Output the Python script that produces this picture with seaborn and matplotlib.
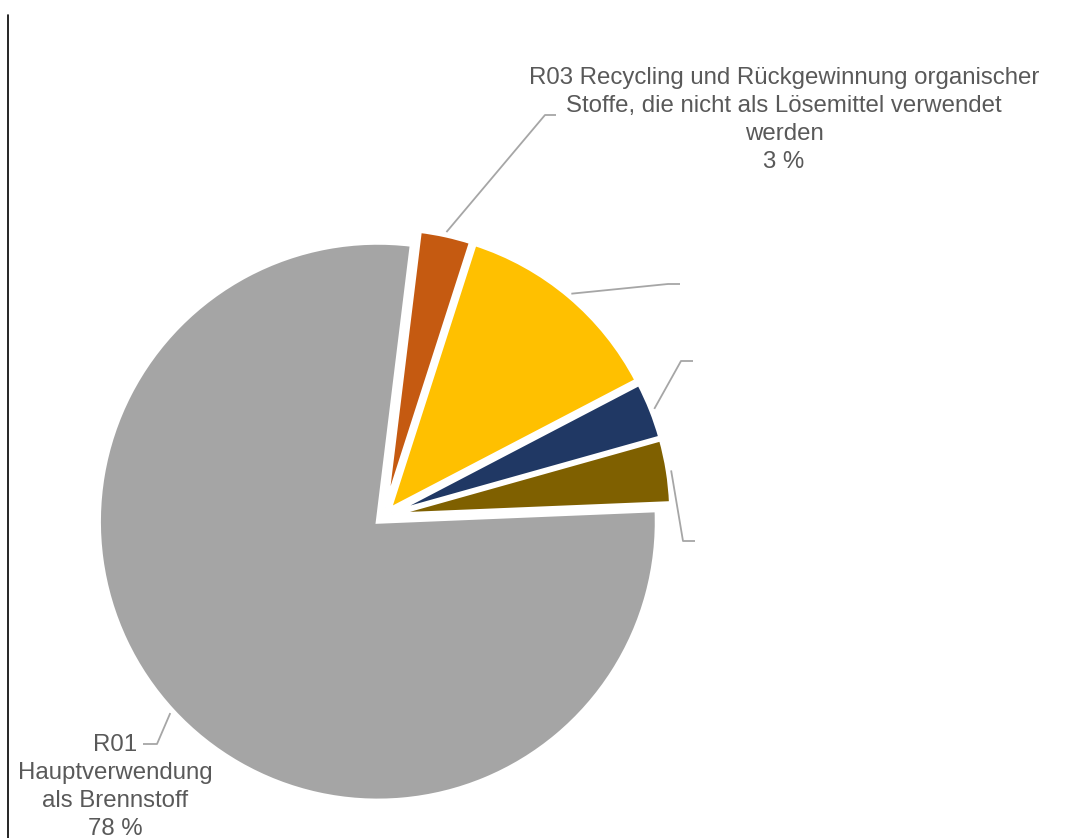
import numpy as np
import matplotlib
matplotlib.use("Agg")
import matplotlib.pyplot as plt
from matplotlib.lines import Line2D
import seaborn as sns

# Share of recovery operations (R-codes), clockwise from the top
codes = ["R03", "R02", "R04", "R05", "R01"]
labels = [
    "R03 Recycling und Rückgewinnung organischer\nStoffe, die nicht als Lösemittel verwendet\nwerden\n3 %",
    "",
    "",
    "",
    "R01\nHauptverwendung\nals Brennstoff\n78 %",
]
shares = [3.0, 12.4, 3.3, 3.7, 77.6]
colors = ["#C55A11", "#FFC000", "#203864", "#7F6000", "#A5A5A5"]

sns.set_theme(style="white")
plt.rcParams["font.family"] = ["Liberation Sans", "DejaVu Sans"]

W, H = 1082, 838
fig = plt.figure(figsize=(W / 100, H / 100), dpi=100)
ax = fig.add_axes([0, 0, 1, 1])

# pixel geometry of the pie
cx, cy, R = 384.0, 516.0, 279.0

def px(x, y):
    return (x - cx) / R, (cy - y) / R

explode = 0.03
wedges, _ = ax.pie(
    shares,
    colors=colors,
    startangle=83.0,
    counterclock=False,
    explode=[explode] * len(shares),
    wedgeprops=dict(edgecolor="white", linewidth=3),
)

ax.set_xlim(-cx / R, (W - cx) / R)
ax.set_ylim(-(H - cy) / R, cy / R)
ax.set_aspect("auto")
ax.axis("off")

# label placement: elbow of the leader, end of the leader, text centre (pixels)
layout = [
    ((545, 115), (556, 115), (784, 120), "left"),
    ((668, 284), (680, 284), None, "left"),
    ((681, 361), (693, 361), None, "left"),
    ((683, 541), (695, 541), None, "left"),
    ((157, 744), (143, 744), (115, 787), "right"),
]

line_col = "#A6A6A6"
text_col = "#595959"
for w, lab, (elbow, end, tpos, side) in zip(wedges, labels, layout):
    mid = np.deg2rad((w.theta1 + w.theta2) / 2)
    ox, oy = w.center
    ax_, ay_ = ox + 1.012 * np.cos(mid), oy + 1.012 * np.sin(mid)
    ex, ey = px(*elbow)
    fx, fy = px(*end)
    ax.plot([ax_, ex, fx], [ay_, ey, fy], color=line_col, lw=1.3,
            solid_capstyle="butt")
    if lab and tpos is not None:
        tx, ty = px(*tpos)
        ax.text(tx, ty, lab, ha="center", va="center", fontsize=17.3,
                color=text_col, linespacing=1.34)

# thin frame line on the left edge
fig.add_artist(Line2D([8 / W, 8 / W], [0, 1 - 15 / H], color="black", lw=1.2,
                      transform=fig.transFigure))

fig.savefig("out.png", dpi=100, facecolor="white")
